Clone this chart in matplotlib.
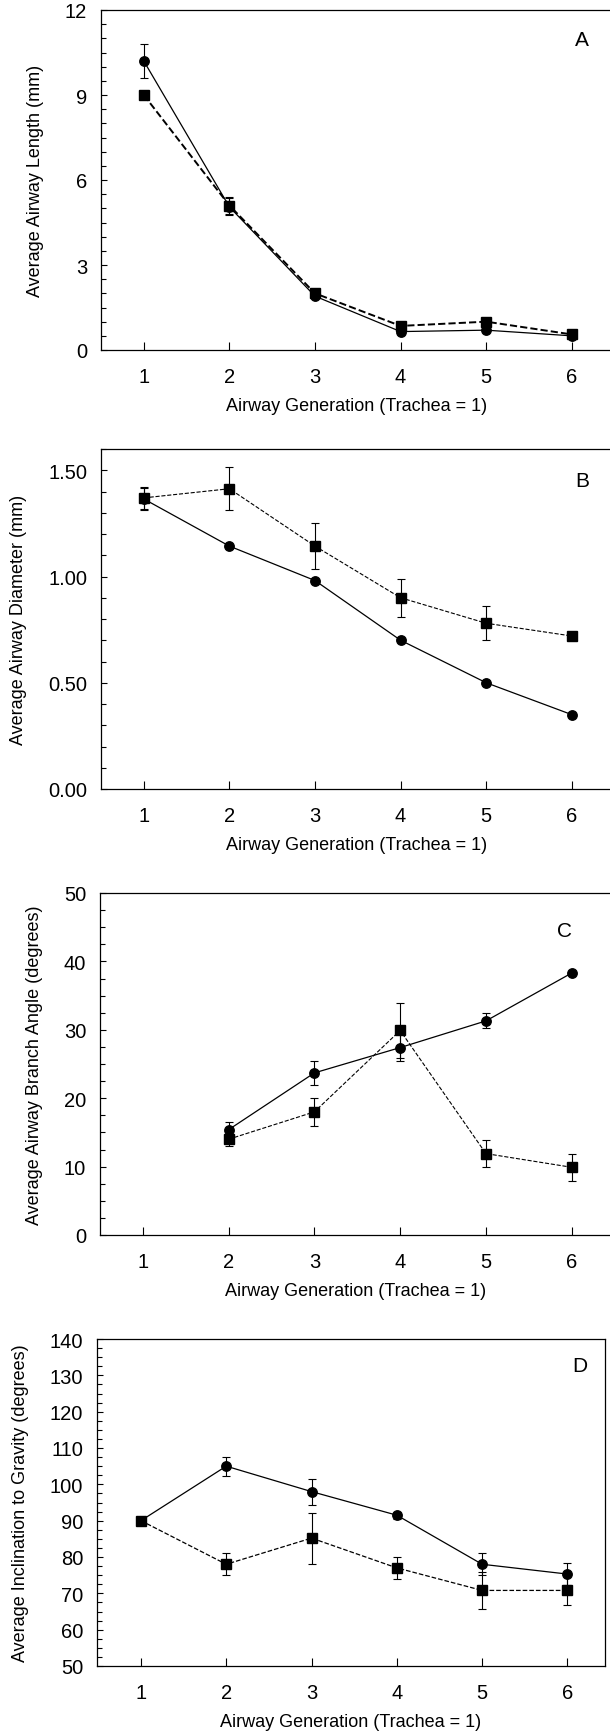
import numpy as np
import matplotlib.pyplot as plt
from matplotlib.ticker import MultipleLocator

plt.rcParams['font.family'] = ['Liberation Sans', 'DejaVu Sans']

gens = [1, 2, 3, 4, 5, 6]
xlabel = 'Airway Generation (Trachea = 1)'

# A - length (mm)
len_circ = [10.2, 5.05, 1.9, 0.65, 0.7, 0.5]
len_circ_err = [0.6, 0.3, 0, 0, 0, 0]
len_sq = [9.0, 5.1, 2.0, 0.85, 1.0, 0.55]
len_sq_err = [0, 0.3, 0, 0, 0, 0]

# B - diameter (mm)
dia_circ = [1.365, 1.143, 0.981, 0.70, 0.50, 0.35]
dia_circ_err = [0.05, 0, 0, 0, 0, 0]
dia_sq = [1.37, 1.413, 1.143, 0.90, 0.78, 0.72]
dia_sq_err = [0.05, 0.10, 0.11, 0.09, 0.08, 0]

# C - branch angle (degrees), no value for generation 1
ang_gens = [2, 3, 4, 5, 6]
ang_circ = [15.4, 23.7, 27.4, 31.3, 38.3]
ang_circ_err = [1.1, 1.7, 2.0, 1.1, 0]
ang_sq = [14.0, 18.0, 29.9, 11.9, 9.9]
ang_sq_err = [1.0, 2.0, 4.0, 2.0, 2.0]

# D - inclination to gravity (degrees)
inc_circ = [90, 105.0, 98.0, 91.5, 78.0, 75.3]
inc_circ_err = [0, 2.6, 3.6, 1.0, 3.0, 3.0]
inc_sq = [90, 78.0, 85.2, 77.0, 70.8, 70.8]
inc_sq_err = [0, 3.0, 7.0, 3.0, 5.0, 4.0]

W, H = 610, 1733
fig = plt.figure(figsize=(W / 100, H / 100), dpi=100)


def make_ax(left, top, bottom, right=612):
    return fig.add_axes([left / W, 1 - bottom / H, (right - left) / W, (bottom - top) / H])


def panel(ax, x, circ, circ_err, sq, sq_err, dash, ylim, major, minor, fmt,
          ylabel, letter, letter_xy, xlim=(0.5, 6.47)):
    ax.errorbar(x, sq, yerr=sq_err, color='black', ls=dash[0], lw=dash[1],
                marker='s', ms=7, capsize=3, elinewidth=0.8, capthick=0.8)
    ax.errorbar(x, circ, yerr=circ_err, color='black', ls='-', lw=0.9,
                marker='o', ms=6.8, capsize=3, elinewidth=0.8, capthick=0.8)
    ax.set_xlim(*xlim)
    ax.set_ylim(*ylim)
    ax.set_xticks(gens)
    ax.yaxis.set_major_locator(MultipleLocator(major))
    ax.yaxis.set_minor_locator(MultipleLocator(minor))
    ax.yaxis.set_major_formatter(plt.FormatStrFormatter(fmt))
    ax.tick_params(axis='both', which='both', direction='in', labelsize=14.5,
                   width=0.8, top=False, right=False)
    ax.tick_params(axis='y', which='major', length=4, pad=10)
    ax.tick_params(axis='y', which='minor', length=3.5)
    ax.tick_params(axis='x', which='major', length=5.5, pad=12)
    for s in ax.spines.values():
        s.set_linewidth(0.9)
    ax.set_xlabel(xlabel, fontsize=13, labelpad=8)
    ax.set_ylabel(ylabel, fontsize=13, labelpad=15)
    fig.text(letter_xy[0] / W, 1 - letter_xy[1] / H, letter, fontsize=15,
             ha='center', va='center')


axA = make_ax(101, 11, 351)
panel(axA, gens, len_circ, len_circ_err, len_sq, len_sq_err, ('--', 1.4),
      (0, 12), 3, 0.5, '%d', 'Average Airway Length (mm)', 'A', (582, 40))

axB = make_ax(101, 450, 790)
panel(axB, gens, dia_circ, dia_circ_err, dia_sq, dia_sq_err, ('--', 0.8),
      (0, 1.6), 0.5, 0.1, '%.2f', 'Average Airway Diameter (mm)', 'B', (582, 482))

axC = make_ax(100, 894, 1236)
panel(axC, ang_gens, ang_circ, ang_circ_err, ang_sq, ang_sq_err, ('--', 0.8),
      (0, 50), 10, 2.5, '%d', 'Average Airway Branch Angle (degrees)', 'C', (564, 932))

axD = make_ax(97, 1340, 1667, right=605)
panel(axD, gens, inc_circ, inc_circ_err, inc_sq, inc_sq_err, ('--', 0.9),
      (50, 140), 10, 2.5, '%d', 'Average Inclination to Gravity (degrees)', 'D', (580, 1367),
      xlim=(0.485, 6.44))

fig.savefig('out.png', dpi=100)
